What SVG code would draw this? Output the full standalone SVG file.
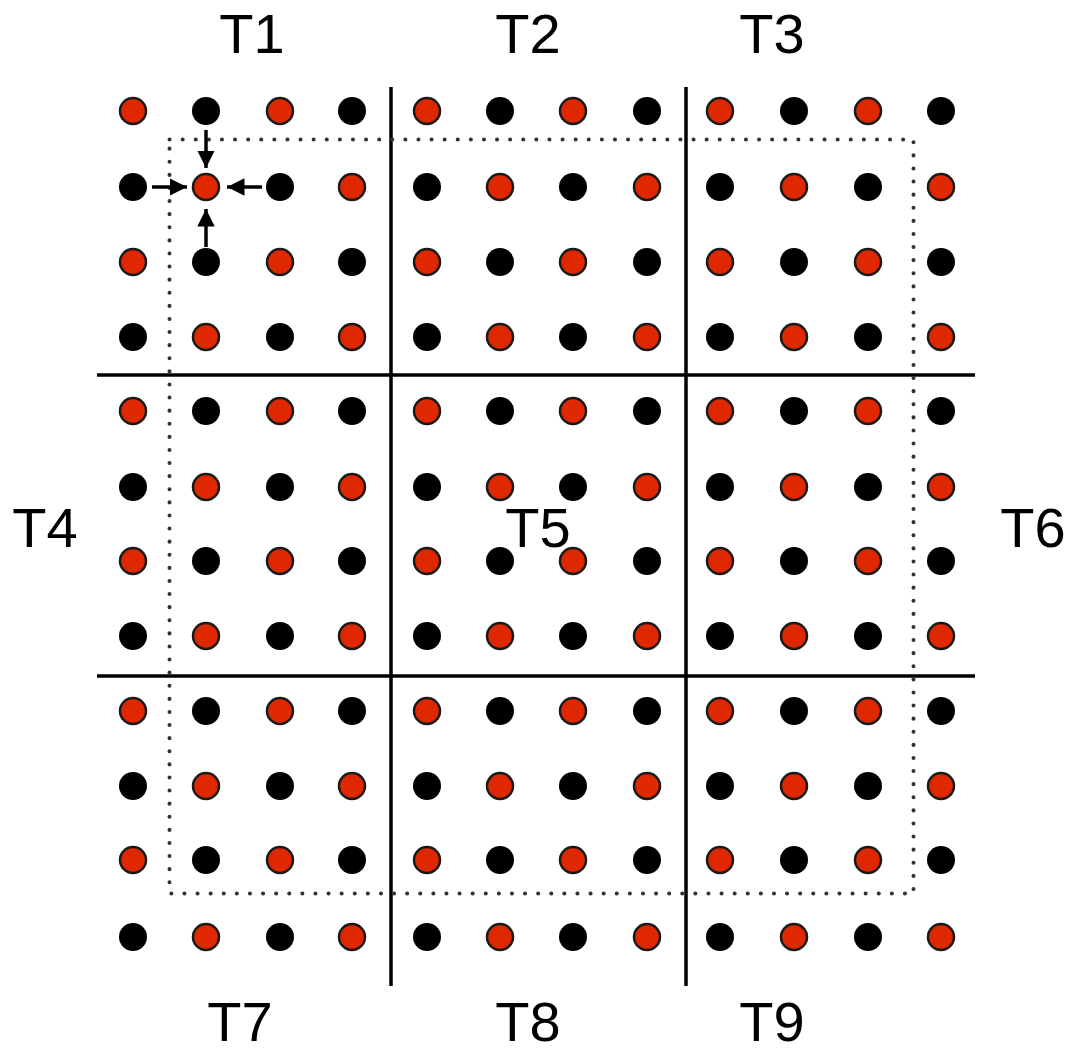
<svg xmlns="http://www.w3.org/2000/svg" width="1067" height="1054" viewBox="0 0 1067 1054">
<style>
.r{fill:#e02800;stroke:#1a1a1a;stroke-width:2.5}
.b{fill:#000}
.ln{stroke:#000;stroke-width:3.5;fill:none}
.ar{stroke:#000;stroke-width:3.5;fill:none;marker-end:url(#ah)}
.lb{font-family:"Liberation Sans","Open Sans",sans-serif;font-size:56px;fill:#000;text-anchor:middle}
</style>
<defs>
<marker id="ah" markerWidth="5" markerHeight="5" refX="5" refY="2.5" orient="auto" markerUnits="strokeWidth"><path d="M0,0 L5,2.5 L0,5 Z" fill="#000"/></marker>
<circle id="R" r="13" class="r"/>
<circle id="B" r="14" class="b"/>
</defs>
<rect width="1067" height="1054" fill="#fff"/>
<g id="dots">
<use href="#R" x="133" y="111"/><use href="#B" x="206" y="111"/><use href="#R" x="280" y="111"/><use href="#B" x="352" y="111"/><use href="#R" x="427" y="111"/><use href="#B" x="500" y="111"/><use href="#R" x="573" y="111"/><use href="#B" x="647" y="111"/><use href="#R" x="720" y="111"/><use href="#B" x="794" y="111"/><use href="#R" x="868" y="111"/><use href="#B" x="941" y="111"/>
<use href="#B" x="133" y="187"/><use href="#R" x="206" y="187"/><use href="#B" x="280" y="187"/><use href="#R" x="352" y="187"/><use href="#B" x="427" y="187"/><use href="#R" x="500" y="187"/><use href="#B" x="573" y="187"/><use href="#R" x="647" y="187"/><use href="#B" x="720" y="187"/><use href="#R" x="794" y="187"/><use href="#B" x="868" y="187"/><use href="#R" x="941" y="187"/>
<use href="#R" x="133" y="262"/><use href="#B" x="206" y="262"/><use href="#R" x="280" y="262"/><use href="#B" x="352" y="262"/><use href="#R" x="427" y="262"/><use href="#B" x="500" y="262"/><use href="#R" x="573" y="262"/><use href="#B" x="647" y="262"/><use href="#R" x="720" y="262"/><use href="#B" x="794" y="262"/><use href="#R" x="868" y="262"/><use href="#B" x="941" y="262"/>
<use href="#B" x="133" y="337"/><use href="#R" x="206" y="337"/><use href="#B" x="280" y="337"/><use href="#R" x="352" y="337"/><use href="#B" x="427" y="337"/><use href="#R" x="500" y="337"/><use href="#B" x="573" y="337"/><use href="#R" x="647" y="337"/><use href="#B" x="720" y="337"/><use href="#R" x="794" y="337"/><use href="#B" x="868" y="337"/><use href="#R" x="941" y="337"/>
<use href="#R" x="133" y="411"/><use href="#B" x="206" y="411"/><use href="#R" x="280" y="411"/><use href="#B" x="352" y="411"/><use href="#R" x="427" y="411"/><use href="#B" x="500" y="411"/><use href="#R" x="573" y="411"/><use href="#B" x="647" y="411"/><use href="#R" x="720" y="411"/><use href="#B" x="794" y="411"/><use href="#R" x="868" y="411"/><use href="#B" x="941" y="411"/>
<use href="#B" x="133" y="487"/><use href="#R" x="206" y="487"/><use href="#B" x="280" y="487"/><use href="#R" x="352" y="487"/><use href="#B" x="427" y="487"/><use href="#R" x="500" y="487"/><use href="#B" x="573" y="487"/><use href="#R" x="647" y="487"/><use href="#B" x="720" y="487"/><use href="#R" x="794" y="487"/><use href="#B" x="868" y="487"/><use href="#R" x="941" y="487"/>
<use href="#R" x="133" y="561"/><use href="#B" x="206" y="561"/><use href="#R" x="280" y="561"/><use href="#B" x="352" y="561"/><use href="#R" x="427" y="561"/><use href="#B" x="500" y="561"/><use href="#R" x="573" y="561"/><use href="#B" x="647" y="561"/><use href="#R" x="720" y="561"/><use href="#B" x="794" y="561"/><use href="#R" x="868" y="561"/><use href="#B" x="941" y="561"/>
<use href="#B" x="133" y="636"/><use href="#R" x="206" y="636"/><use href="#B" x="280" y="636"/><use href="#R" x="352" y="636"/><use href="#B" x="427" y="636"/><use href="#R" x="500" y="636"/><use href="#B" x="573" y="636"/><use href="#R" x="647" y="636"/><use href="#B" x="720" y="636"/><use href="#R" x="794" y="636"/><use href="#B" x="868" y="636"/><use href="#R" x="941" y="636"/>
<use href="#R" x="133" y="711"/><use href="#B" x="206" y="711"/><use href="#R" x="280" y="711"/><use href="#B" x="352" y="711"/><use href="#R" x="427" y="711"/><use href="#B" x="500" y="711"/><use href="#R" x="573" y="711"/><use href="#B" x="647" y="711"/><use href="#R" x="720" y="711"/><use href="#B" x="794" y="711"/><use href="#R" x="868" y="711"/><use href="#B" x="941" y="711"/>
<use href="#B" x="133" y="786"/><use href="#R" x="206" y="786"/><use href="#B" x="280" y="786"/><use href="#R" x="352" y="786"/><use href="#B" x="427" y="786"/><use href="#R" x="500" y="786"/><use href="#B" x="573" y="786"/><use href="#R" x="647" y="786"/><use href="#B" x="720" y="786"/><use href="#R" x="794" y="786"/><use href="#B" x="868" y="786"/><use href="#R" x="941" y="786"/>
<use href="#R" x="133" y="860"/><use href="#B" x="206" y="860"/><use href="#R" x="280" y="860"/><use href="#B" x="352" y="860"/><use href="#R" x="427" y="860"/><use href="#B" x="500" y="860"/><use href="#R" x="573" y="860"/><use href="#B" x="647" y="860"/><use href="#R" x="720" y="860"/><use href="#B" x="794" y="860"/><use href="#R" x="868" y="860"/><use href="#B" x="941" y="860"/>
<use href="#B" x="133" y="937"/><use href="#R" x="206" y="937"/><use href="#B" x="280" y="937"/><use href="#R" x="352" y="937"/><use href="#B" x="427" y="937"/><use href="#R" x="500" y="937"/><use href="#B" x="573" y="937"/><use href="#R" x="647" y="937"/><use href="#B" x="720" y="937"/><use href="#R" x="794" y="937"/><use href="#B" x="868" y="937"/><use href="#R" x="941" y="937"/>
</g>
<g id="tiles">
<line class="ln" x1="391" y1="87" x2="391" y2="986"/>
<line class="ln" x1="686" y1="87" x2="686" y2="986"/>
<line class="ln" x1="97" y1="375" x2="975" y2="375"/>
<line class="ln" x1="97" y1="676" x2="975" y2="676"/>
</g>
<rect id="halo" x="169.5" y="139.5" width="744" height="754" fill="none" stroke="#333" stroke-width="4" stroke-dasharray="0.1 13" stroke-linecap="round"/>
<g id="connectors">
<line class="ar" x1="206" y1="130" x2="206" y2="168"/>
<line class="ar" x1="152" y1="187" x2="187" y2="187"/>
<line class="ar" x1="262" y1="187" x2="227" y2="187"/>
<line class="ar" x1="206" y1="247" x2="206" y2="209"/>
</g>
<g id="labels">
<text class="lb" x="252" y="53">T1</text>
<text class="lb" x="528" y="53">T2</text>
<text class="lb" x="772" y="53">T3</text>
<text class="lb" x="45" y="547">T4</text>
<text class="lb" x="538" y="547">T5</text>
<text class="lb" x="1033" y="547">T6</text>
<text class="lb" x="240" y="1041">T7</text>
<text class="lb" x="528" y="1041">T8</text>
<text class="lb" x="772" y="1041">T9</text>
</g>
</svg>
